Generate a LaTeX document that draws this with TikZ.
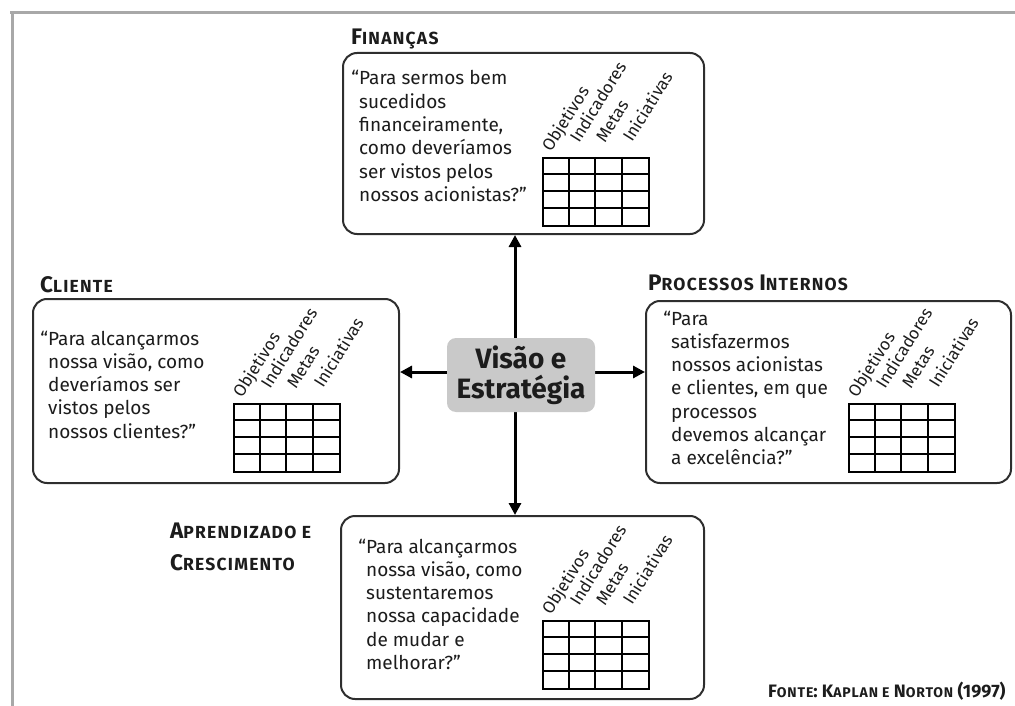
\documentclass[tikz,border=0pt]{standalone}
\usepackage{fontspec}
\setmainfont{Fira Sans}
\usetikzlibrary{arrows.meta}

\definecolor{ink}{HTML}{1C1C1C}
\definecolor{boxline}{HTML}{2E2E2E}
\definecolor{framegray}{HTML}{A8A8A8}
\definecolor{corefill}{HTML}{C9C9C9}

% small capitals for headings and the source line
\newcommand\tsc[1]{{\fontsize{17.5}{17.5}\selectfont\addfontfeature{LetterSpace=7}#1}}
\newcommand\fsc[1]{{\fontsize{14}{14}\selectfont\addfontfeature{LetterSpace=6}#1}}
% a block of text whose anchor is the baseline of its first line
\newcommand\quoteblock[1]{\begin{tabular}[t]{@{}l@{}}#1\end{tabular}}

\tikzset{
  frameline/.style={draw=framegray, line width=3pt},
  card/.style={draw=boxline, line width=2pt, rounded corners=14pt, inner sep=0pt, anchor=north west},
  heading/.style={anchor=base west, inner sep=0pt, text=ink, font=\bfseries\fontsize{22.5}{32}\selectfont},
  question/.style={anchor=base west, inner sep=0pt, text=ink, font=\fontsize{19}{23.3}\selectfont},
  core/.style={fill=corefill, rounded corners=9pt, minimum width=148pt, minimum height=74pt,
    align=center, inner sep=0pt, text=ink, font=\bfseries\fontsize{28}{30}\selectfont},
  link/.style={draw=black, line width=3pt, -{Triangle[length=12pt,width=12pt]}},
  table/.style={draw=black, line width=2pt, inner sep=0pt, anchor=north west,
    minimum width=106pt, minimum height=68pt},
  cell/.style={draw=black, line width=2pt},
  colhead/.style={anchor=base west, rotate=58, inner sep=0pt, text=ink, font=\fontsize{17}{17}\selectfont},
  source/.style={anchor=base west, inner sep=0pt, text=ink, font=\bfseries\fontsize{18}{18}\selectfont}
}

% scorecard table: 4 x 4 cells with slanted column heads
% #1 node name, #2 x of top-left corner, #3 y of top-left corner
\newcommand\scoretable[3]{%
  \node[table] (#1) at (#2,#3) {};
  \begin{scope}[shift={(#2,#3)}]
    \foreach \c in {26.5,53,79.5} \draw[cell] (\c,0) -- (\c,68);
    \foreach \r in {17,34,51} \draw[cell] (0,\r) -- (106,\r);
    \node[colhead] (#1-obj) at (9,-4) {Objetivos};
    \node[colhead] (#1-ind) at (37,-13) {Indicadores};
    \node[colhead] (#1-met) at (63,-13) {Metas};
    \node[colhead] (#1-ini) at (90,-14) {Iniciativas};
  \end{scope}
}

\begin{document}
\begin{tikzpicture}[x=1pt, y=-1pt]
  \useasboundingbox (0,0) rectangle (1015,706);

  % page frame (top and left rules)
  \draw[frameline] (10,13) -- (1015,13);
  \draw[frameline] (12,13) -- (12,706);

  % perspective cards
  \node[card, minimum width=361pt, minimum height=181pt] (fin)   at (342,52)  {};
  \node[card, minimum width=366pt, minimum height=184pt] (cli)   at (32,298)  {};
  \node[card, minimum width=365pt, minimum height=182pt] (proc)  at (645,300) {};
  \node[card, minimum width=363pt, minimum height=183pt] (learn) at (340,515) {};

  % headings
  \node[heading] (fin-title)  at (351,45)  {F\tsc{INANÇAS}};
  \node[heading] (cli-title)  at (40,292)  {C\tsc{LIENTE}};
  \node[heading] (proc-title) at (648,290) {P\tsc{ROCESSOS} I\tsc{NTERNOS}};
  \node[heading] (learn-title) at (170,538) {\quoteblock{A\tsc{PRENDIZADO E}\\ C\tsc{RESCIMENTO}}};

  % guiding questions
  \node[question] (fin-q) at (359,85) {\quoteblock{\llap{“}Para sermos bem\\ sucedidos\\ financeiramente,\\ como deveríamos\\ ser vistos pelos\\ nossos acionistas?"}};
  \node[question] (cli-q) at (48,345) {\quoteblock{\llap{“}Para alcançarmos\\ nossa visão, como\\ deveríamos ser\\ vistos pelos\\ nossos clientes?"}};
  \node[question] (proc-q) at (671,325) {\quoteblock{\llap{“}Para\\ satisfazermos\\ nossos acionistas\\ e clientes, em que\\ processos\\ devemos alcançar\\ a excelência?"}};
  \node[question] (learn-q) at (366,553) {\quoteblock{\llap{“}Para alcançarmos\\ nossa visão, como\\ sustentaremos\\ nossa capacidade\\ de mudar e\\ melhorar?"}};

  % scorecard tables
  \scoretable{fin-t}{542}{157}
  \scoretable{cli-t}{233}{403}
  \scoretable{proc-t}{848}{403}
  \scoretable{learn-t}{542}{620}

  % connectors from the centre to each perspective
  \coordinate (hub) at (515,372);
  \draw[link] (hub) -- (fin.south -| hub);
  \draw[link] (hub) -- (learn.north -| hub);
  \draw[link] (hub) -- (cli.east |- hub);
  \draw[link] (hub) -- (proc.west |- hub);

  % vision and strategy
  \node[core] (vision) at (521,375) {Visão e\\Estratégia};

  % source
  \node[source] (src) at (768,697) {F\fsc{ONTE}: K\fsc{APLAN E} N\fsc{ORTON} (1997)};
\end{tikzpicture}
\end{document}
